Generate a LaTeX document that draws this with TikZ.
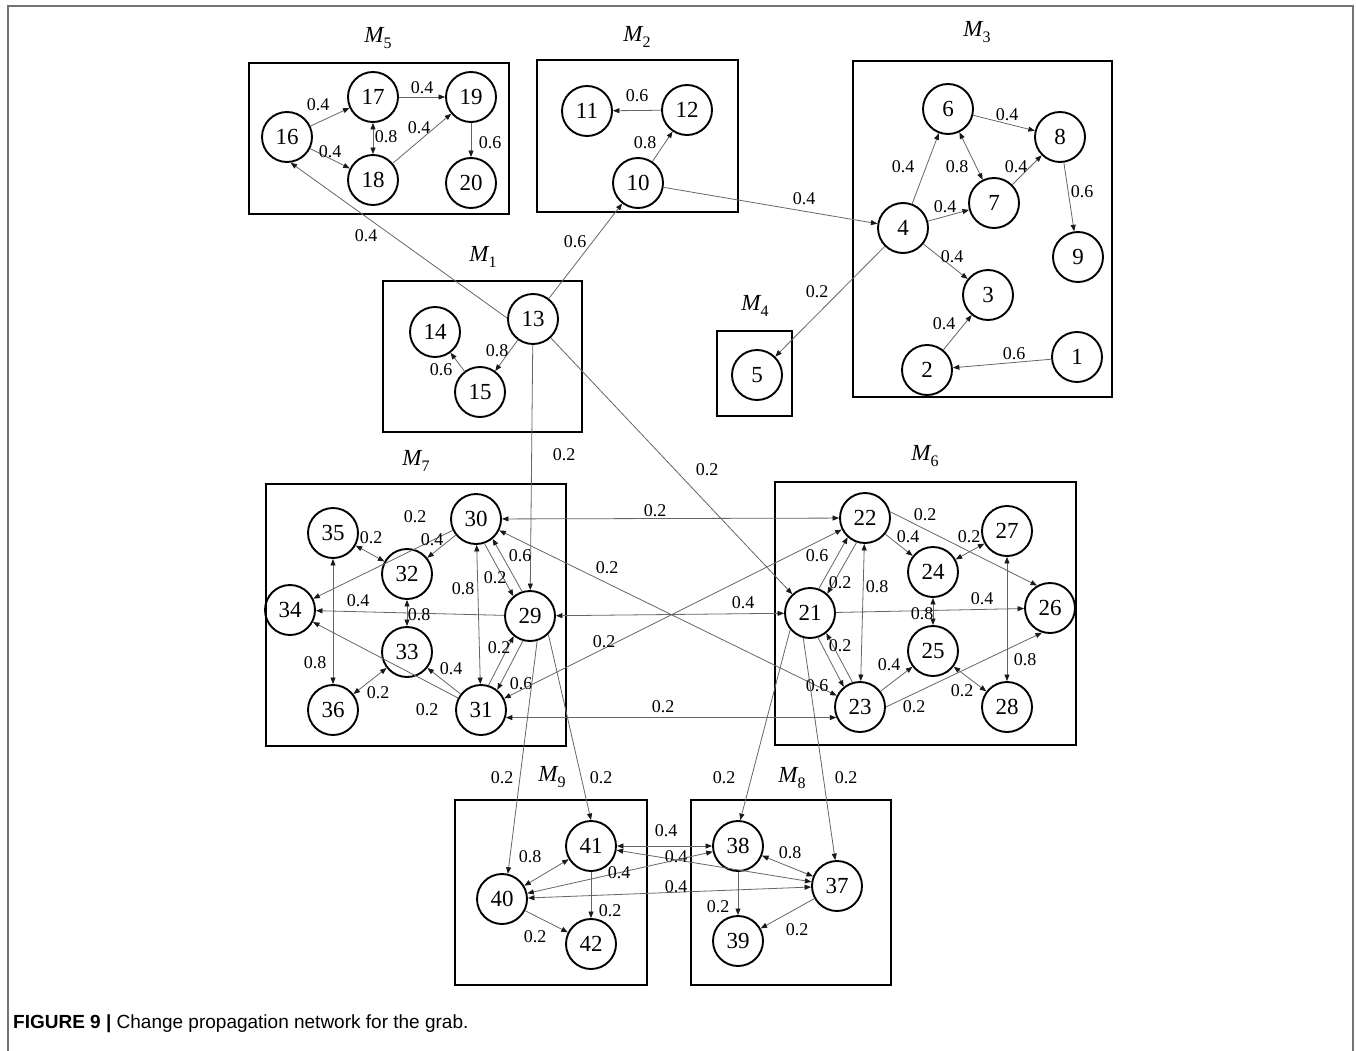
\documentclass[tikz,border=0pt]{standalone}
\usepackage{fontspec}
\setmainfont{Liberation Serif}
\newfontfamily\capfont{Liberation Sans}
\usetikzlibrary{arrows.meta,calc}

% module caption: italic M with an upright subscript number
\newcommand\modname[1]{{\itshape M}\raisebox{-0.28em}{\fontsize{16}{16}\selectfont #1}}

\tikzset{
  >={Triangle[length=6.5pt,width=5pt,color=black!90]},
  nd/.style={circle,draw,line width=1.9pt,minimum size=50pt,inner sep=0pt,
    font=\fontsize{23}{23}\selectfont},
  grp/.style={draw,line width=1.9pt},
  e/.style={draw=black!60,line width=0.8pt,->},
  ee/.style={draw=black!60,line width=0.8pt,<->},
  lab/.style={font=\fontsize{18}{18}\selectfont,inner sep=0pt},
  mlab/.style={font=\fontsize{23}{23}\selectfont,inner sep=0pt},
}

% one of two opposite parallel edges between #2 and #3, shifted by #4 degrees
\newcommand\twin[6]{%
  \draw[#1] let \p1=($(#3)-(#2)$),
    \n1={atan2(\y1,\x1)+#4}, \n2={atan2(\y1,\x1)+180-#4} in
    (#2.\n1) -- (#3.\n2) node[lab] at #5 {#6};}

\begin{document}
\begin{tikzpicture}[x=1pt,y=-1pt]
\useasboundingbox (0,0) rectangle (1356,1051);
\fill[white] (0,0) rectangle (1356,1051);
\draw[black!55,line width=1.5pt] (8,1051) -- (8,6) -- (1353,6) -- (1353,1051);

% ---------- module frames ----------
\draw[grp] (249,63) rectangle (509,214);
\draw[grp] (537,60) rectangle (738,212);
\draw[grp] (853,61) rectangle (1112,397);
\draw[grp] (383,281) rectangle (582,432);
\draw[grp] (717,331) rectangle (792,416);
\draw[grp] (266,484) rectangle (566,746);
\draw[grp] (775,482) rectangle (1076,745);
\draw[grp] (455,800) rectangle (647,985);
\draw[grp] (691,800) rectangle (891,985);

\node[mlab] (m5) at (378,38) {\modname{5}};
\node[mlab] (m2) at (637,37) {\modname{2}};
\node[mlab] (m3) at (977,32) {\modname{3}};
\node[mlab] (m1) at (483,257) {\modname{1}};
\node[mlab] (m4) at (755,306) {\modname{4}};
\node[mlab] (m7) at (416,461) {\modname{7}};
\node[mlab] (m6) at (925,456) {\modname{6}};
\node[mlab] (m9) at (552,777) {\modname{9}};
\node[mlab] (m8) at (792,778) {\modname{8}};

% ---------- components ----------
\node[nd] (1) at (1077,357) {1};
\node[nd] (2) at (927,370) {2};
\node[nd] (3) at (988,295) {3};
\node[nd] (4) at (903,228) {4};
\node[nd] (5) at (757,375) {5};
\node[nd] (6) at (948,109) {6};
\node[nd] (7) at (994,203) {7};
\node[nd] (8) at (1060,137) {8};
\node[nd] (9) at (1078,257) {9};
\node[nd] (10) at (638,183) {10};
\node[nd] (11) at (587,111) {11};
\node[nd] (12) at (687,110) {12};
\node[nd] (13) at (533,319) {13};
\node[nd] (14) at (435,332) {14};
\node[nd] (15) at (480,392) {15};
\node[nd] (16) at (287,137) {16};
\node[nd] (17) at (373,97) {17};
\node[nd] (18) at (373,180) {18};
\node[nd] (19) at (471,97) {19};
\node[nd] (20) at (471,183) {20};
\node[nd] (21) at (810,613) {21};
\node[nd] (22) at (865,518) {22};
\node[nd] (23) at (860,707) {23};
\node[nd] (24) at (933,572) {24};
\node[nd] (25) at (933,651) {25};
\node[nd] (26) at (1050,608) {26};
\node[nd] (27) at (1007,531) {27};
\node[nd] (28) at (1007,707) {28};
\node[nd] (29) at (530,616) {29};
\node[nd] (30) at (476,519) {30};
\node[nd] (31) at (481,710) {31};
\node[nd] (32) at (407,574) {32};
\node[nd] (33) at (407,652) {33};
\node[nd] (34) at (290,610) {34};
\node[nd] (35) at (333,533) {35};
\node[nd] (36) at (333,710) {36};
\node[nd] (37) at (837,886) {37};
\node[nd] (38) at (738,846) {38};
\node[nd] (39) at (738,941) {39};
\node[nd] (40) at (502,899) {40};
\node[nd] (41) at (591,846) {41};
\node[nd] (42) at (591,944) {42};

% ---------- M5 ----------
\draw[e] (16) -- (17) node[lab] at (318,105) {0.4};
\draw[e] (16) -- (18) node[lab] at (330,152) {0.4};
\draw[ee] (17) -- (18) node[lab] at (386,137) {0.8};
\draw[e] (17) -- (19) node[lab] at (422,88) {0.4};
\draw[e] (18) -- (19) node[lab] at (419,128) {0.4};
\draw[e] (19) -- (20) node[lab] at (490,143) {0.6};

% ---------- M2 ----------
\draw[e] (12) -- (11) node[lab] at (637,96) {0.6};
\draw[e] (10) -- (12) node[lab] at (645,143) {0.8};

% ---------- M3 ----------
\draw[e] (4) -- (6) node[lab] at (903,167) {0.4};
\draw[e] (6) -- (8) node[lab] at (1007,115) {0.4};
\draw[ee] (6) -- (7) node[lab] at (957,167) {0.8};
\draw[e] (7) -- (8) node[lab] at (1016,167) {0.4};
\draw[e] (4) -- (7) node[lab] at (945,207) {0.4};
\draw[e] (8) -- (9) node[lab] at (1082,192) {0.6};
\draw[e] (4) -- (3) node[lab] at (952,257) {0.4};
\draw[e] (2) -- (3) node[lab] at (944,324) {0.4};
\draw[e] (1) -- (2) node[lab] at (1014,354) {0.6};

% ---------- M1 and links leaving it ----------
\draw[e] (13) -- (15) node[lab] at (497,351) {0.8};
\draw[e] (15) -- (14) node[lab] at (441,370) {0.6};
\draw[e] (13.178) -- (16.-82) node[lab] at (366,236) {0.4};
\draw[e] (13) -- (10) node[lab] at (575,242) {0.6};
\draw[e] (10) -- (4) node[lab] at (804,199) {0.4};
\draw[e] (4) -- (5) node[lab] at (817,292) {0.2};
\draw[e] (13) -- (29) node[lab] at (564,455) {0.2};
\draw[e] (13) -- (21) node[lab] at (707,470) {0.2};

% ---------- M7 ----------
\draw[e] (30) -- (34) node[lab] at (415,517) {0.2};
\draw[ee] (35) -- (32) node[lab] at (371,538) {0.2};
\draw[e] (30) -- (32) node[lab] at (432,540) {0.4};
\twin{e}{29}{30}{-11}{(520,556)}{0.6}
\twin{e}{30}{29}{-11}{(495,578)}{0.2}
\draw[ee] (30) -- (31) node[lab] at (463,589) {0.8};
\draw[e] (29) -- (34) node[lab] at (358,601) {0.4};
\draw[ee] (32) -- (33) node[lab] at (419,615) {0.8};
\twin{e}{31}{29}{11}{(499,648)}{0.2}
\twin{e}{29}{31}{11}{(521,684)}{0.6}
\draw[ee] (35) -- (36) node[lab] at (315,663) {0.8};
\draw[e] (31) -- (33) node[lab] at (451,669) {0.4};
\draw[ee] (33) -- (36) node[lab] at (378,693) {0.2};
\draw[e] (31) -- (34) node[lab] at (427,710) {0.2};

% ---------- links between M7 and M6 ----------
\draw[ee] (30) -- (22) node[lab] at (655,511) {0.2};
\draw[ee] (30) -- (23) node[lab] at (607,568) {0.2};
\draw[ee] (29) -- (21) node[lab] at (743,603) {0.4};
\draw[ee] (31) -- (22) node[lab] at (604,642) {0.2};
\draw[ee] (31.-17) -- (23.-156) node[lab] at (663,707) {0.2};

% ---------- M6 ----------
\draw[e] (22.14) -- (26.120) node[lab] at (925,515) {0.2};
\draw[e] (22) -- (24) node[lab] at (908,537) {0.4};
\draw[ee] (24) -- (27) node[lab] at (969,537) {0.2};
\twin{e}{21}{22}{11}{(817,556)}{0.6}
\twin{e}{22}{21}{11}{(840,583)}{0.2}
\draw[ee] (22) -- (23) node[lab] at (877,587) {0.8};
\draw[e] (21) -- (26) node[lab] at (982,599) {0.4};
\draw[ee] (24) -- (25) node[lab] at (922,614) {0.8};
\twin{e}{23}{21}{-11}{(840,646)}{0.2}
\twin{e}{21}{23}{-11}{(817,686)}{0.6}
\draw[ee] (27) -- (28) node[lab] at (1025,660) {0.8};
\draw[e] (23) -- (25) node[lab] at (889,665) {0.4};
\draw[ee] (25) -- (28) node[lab] at (962,691) {0.2};
\draw[e] (23.0) -- (26.-108) node[lab] at (914,707) {0.2};

% ---------- links down to M9 and M8 ----------
\draw[e] (29.-74) -- (40.77) node[lab] at (502,778) {0.2};
\draw[e] (29.-45) -- (41.90) node[lab] at (601,778) {0.2};
\draw[e] (21.-140) -- (38.85) node[lab] at (724,778) {0.2};
\draw[e] (21.-105) -- (37.94) node[lab] at (846,778) {0.2};

% ---------- M9 and M8 ----------
\draw[ee] (41) -- (38) node[lab] at (666,831) {0.4};
\draw[ee] (40) -- (41) node[lab] at (530,857) {0.8};
\draw[ee] (41) -- (37) node[lab] at (676,857) {0.4};
\draw[ee] (40) -- (38) node[lab] at (619,873) {0.4};
\draw[ee] (40) -- (37) node[lab] at (676,887) {0.4};
\draw[e] (41) -- (42) node[lab] at (610,911) {0.2};
\draw[e] (40) -- (42) node[lab] at (535,937) {0.2};
\draw[ee] (38) -- (37) node[lab] at (790,853) {0.8};
\draw[e] (38) -- (39) node[lab] at (718,907) {0.2};
\draw[e] (37) -- (39) node[lab] at (797,930) {0.2};

% ---------- caption ----------
\node[anchor=base west,inner sep=0pt,font=\capfont\fontsize{19}{22}\selectfont]
  (cap) at (13,1028) {\textbf{FIGURE 9 |} Change propagation network for the grab.};
\end{tikzpicture}
\end{document}
